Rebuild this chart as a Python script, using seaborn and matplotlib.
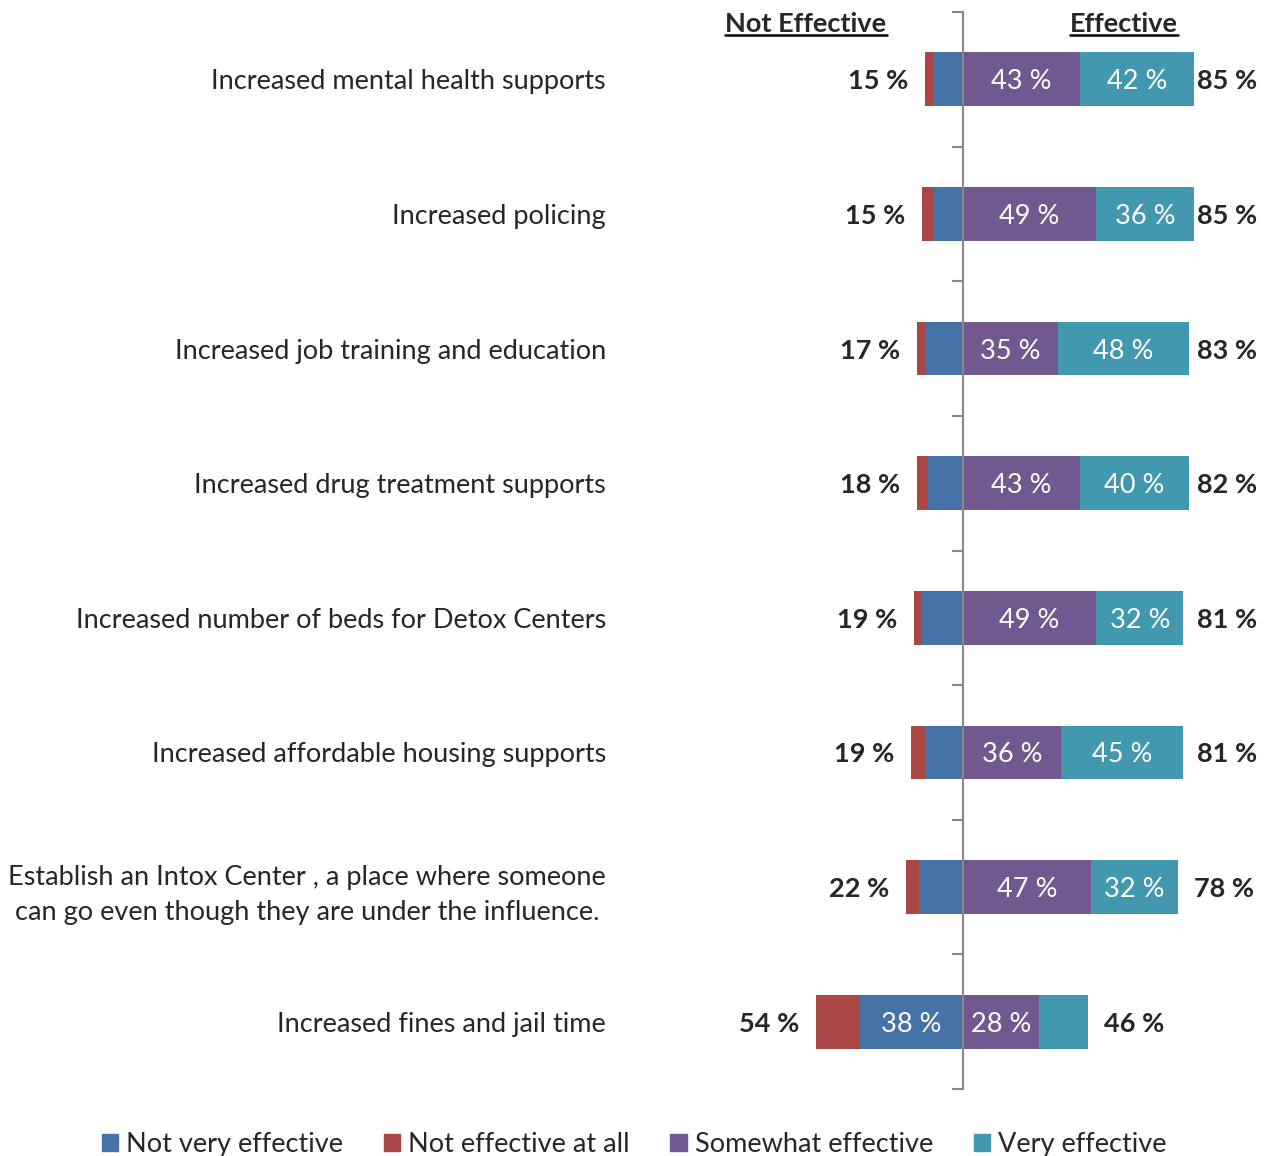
import numpy as np
import pandas as pd
import matplotlib
matplotlib.use('Agg')
import matplotlib.pyplot as plt
from matplotlib.lines import Line2D
from matplotlib.patches import Patch
import seaborn as sns

# Data
categories = [
    "Increased mental health supports",
    "Increased policing",
    "Increased job training and education",
    "Increased drug treatment supports",
    "Increased number of beds for Detox Centers",
    "Increased affordable housing supports",
    "Establish an Intox Center , a place where someone\ncan go even though they are under the influence.",
    "Increased fines and jail time",
]
not_very = [11, 11, 14, 13, 15, 14, 16, 38]
not_at_all = [3, 4, 3, 4, 3, 5, 5, 16]
somewhat = [43, 49, 35, 43, 49, 36, 47, 28]
very = [42, 36, 48, 40, 32, 45, 32, 18]
neg_total_labels = [15, 15, 17, 18, 19, 19, 22, 54]
pos_total_labels = [85, 85, 83, 82, 81, 81, 78, 46]

c_notvery = '#4572A7'
c_notatall = '#AA4643'
c_somewhat = '#71588F'
c_very = '#4198AF'

sns.set_style('white')
plt.rcParams['font.family'] = ['Lato', 'DejaVu Sans']

df = pd.DataFrame({
    'cat': categories,
    'not_very': not_very,
    'not_at_all': not_at_all,
    'somewhat': somewhat,
    'very': very,
})
df['neg_all'] = -(df['not_very'] + df['not_at_all'])
df['neg_nv'] = -df['not_very']
df['pos_all'] = df['somewhat'] + df['very']

# 2.72 px per percent, zero line at x=963 px
fig = plt.figure(figsize=(12.68, 11.56), dpi=100)
ax = fig.add_axes([(963 - 60 * 2.72) / 1268, 67 / 1156, 170 * 2.72 / 1268, 1077 / 1156])

# stacked by overlaying cumulative bars
sns.barplot(data=df, x='neg_all', y='cat', orient='h', color=c_notatall,
            width=0.4, linewidth=0, saturation=1, ax=ax)
sns.barplot(data=df, x='neg_nv', y='cat', orient='h', color=c_notvery,
            width=0.4, linewidth=0, saturation=1, ax=ax)
sns.barplot(data=df, x='pos_all', y='cat', orient='h', color=c_very,
            width=0.4, linewidth=0, saturation=1, ax=ax)
sns.barplot(data=df, x='somewhat', y='cat', orient='h', color=c_somewhat,
            width=0.4, linewidth=0, saturation=1, ax=ax)

n = len(categories)
ax.set_xlim(-60, 110)
ax.set_ylim(n - 0.5, -0.5)
ax.set_xlabel('')
ax.set_ylabel('')
ax.set_xticks([])

for s in ['top', 'right', 'bottom']:
    ax.spines[s].set_visible(False)
ax.spines['left'].set_position(('data', 0))
ax.spines['left'].set_color('#888888')
ax.spines['left'].set_linewidth(1.5)

fs = 19.5
ax.set_yticks(np.arange(n + 1) - 0.5)
ax.set_yticklabels([])
ax.set_yticks(np.arange(n), labels=categories, minor=True)
ax.tick_params(axis='y', which='major', left=True, length=8, width=1.5,
               color='#888888', direction='out')
ax.tick_params(axis='y', which='minor', left=True, length=0, pad=257, labelsize=fs)
for lab in ax.get_yticklabels(minor=True):
    lab.set_multialignment('center')
    lab.set_linespacing(1.5)

# segment labels
for i in range(n):
    segs = [(-not_very[i] / 2, not_very[i]),
            (somewhat[i] / 2, somewhat[i]),
            (somewhat[i] + very[i] / 2, very[i])]
    for xc, v in segs:
        if v >= 20:
            ax.text(xc, i, f"{v} %", color='white', ha='center', va='center_baseline',
                    fontsize=fs)
    neg_end = not_very[i] + not_at_all[i]
    pos_end = somewhat[i] + very[i]
    ax.text(-neg_end - 6.2, i, f"{neg_total_labels[i]} %", ha='right', va='center_baseline',
            fontsize=fs, fontweight='bold', clip_on=False)
    ax.text(min(pos_end + 6, 86), i, f"{pos_total_labels[i]} %", ha='left',
            va='center_baseline', fontsize=fs, fontweight='bold', clip_on=False)

# headers, underlined
headers = [ax.text(-57.7, -0.41, "Not Effective", ha='center', va='center',
                   fontsize=fs, fontweight='bold', clip_on=False),
           ax.text(59.2, -0.41, "Effective", ha='center', va='center',
                   fontsize=fs, fontweight='bold', clip_on=False)]
fig.canvas.draw()
r = fig.canvas.get_renderer()
for t in headers:
    bb = t.get_window_extent(r).transformed(fig.transFigure.inverted())
    y = bb.y0 + 0.001
    fig.add_artist(Line2D([bb.x0, bb.x1], [y, y], color='black', lw=1.8))

handles = [Patch(color=c) for c in [c_notvery, c_notatall, c_somewhat, c_very]]
labels = ['Not very effective', 'Not effective at all', 'Somewhat effective', 'Very effective']
fig.legend(handles, labels, loc='center', bbox_to_anchor=(0.5, 0.01), ncol=4,
           frameon=False, fontsize=fs, handlelength=0.6, handleheight=0.6,
           handletextpad=0.3, columnspacing=1.5)

fig.savefig('out.png', dpi=100)
